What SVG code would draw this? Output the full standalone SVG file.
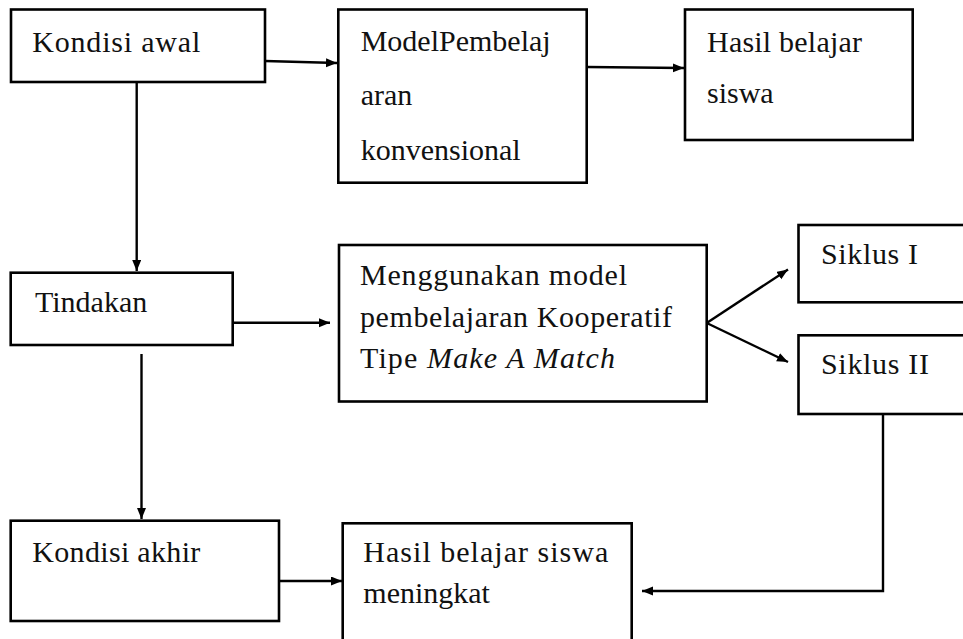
<svg xmlns="http://www.w3.org/2000/svg" width="963" height="639" viewBox="0 0 963 639">
<defs>
<marker id="ah" markerUnits="userSpaceOnUse" markerWidth="12" markerHeight="10" refX="11" refY="4.5" orient="auto">
<path d="M0,0 L11,4.5 L0,9 z" fill="#000"/>
</marker>
<style>
.box{fill:#fff;stroke:#000;stroke-width:2.6}
.t{font-family:"Liberation Serif","Times New Roman",serif;font-size:30px;fill:#111}
.c{fill:none;stroke:#000;stroke-width:2.4}
</style>
</defs>
<rect width="963" height="639" fill="#fff"/>
<g id="connectors">
<path class="c" d="M265,61 L337,63" marker-end="url(#ah)"/>
<path class="c" d="M587,67 L684,68" marker-end="url(#ah)"/>
<path class="c" d="M136.7,81 L136.7,271" marker-end="url(#ah)"/>
<path class="c" d="M233,322.7 L330,322.7" marker-end="url(#ah)"/>
<path class="c" d="M706.7,323 L788,269.5" marker-end="url(#ah)"/>
<path class="c" d="M706.7,323 L788,362" marker-end="url(#ah)"/>
<path class="c" d="M141.5,354 L141.5,519" marker-end="url(#ah)"/>
<path class="c" d="M279,581 L342,581" marker-end="url(#ah)"/>
<path class="c" d="M883,415 L883,591 L642,591" marker-end="url(#ah)"/>
</g>
<g id="kondisi-awal">
<rect class="box" x="11" y="9.5" width="254" height="72.5"/>
<text class="t" x="32.3" y="52.3" textLength="168">Kondisi awal</text>
</g>
<g id="model-konvensional">
<rect class="box" x="338.3" y="9.5" width="248.4" height="173.2"/>
<text class="t" x="360.7" y="50.7">ModelPembelaj</text>
<text class="t" x="360.7" y="105">aran</text>
<text class="t" x="360.7" y="160">konvensional</text>
</g>
<g id="hasil-belajar">
<rect class="box" x="685" y="9.5" width="227.7" height="130.5"/>
<text class="t" x="707" y="51.7" textLength="155">Hasil belajar</text>
<text class="t" x="707" y="103.3">siswa</text>
</g>
<g id="tindakan">
<rect class="box" x="10.7" y="272.7" width="222" height="72.3"/>
<text class="t" x="35" y="311.7">Tindakan</text>
</g>
<g id="menggunakan">
<rect class="box" x="339" y="245" width="367.7" height="156.5"/>
<text class="t" x="360" y="285" textLength="267">Menggunakan model</text>
<text class="t" x="360" y="326.5" textLength="312">pembelajaran Kooperatif</text>
<text class="t" x="360" y="368" textLength="255">Tipe <tspan font-style="italic">Make A Match</tspan></text>
</g>
<g id="siklus-1">
<rect class="box" x="798.5" y="225" width="180" height="77.3"/>
<text class="t" x="821" y="264" textLength="97">Siklus I</text>
</g>
<g id="siklus-2">
<rect class="box" x="798.5" y="335.3" width="180" height="78.7"/>
<text class="t" x="821" y="374" textLength="108">Siklus II</text>
</g>
<g id="kondisi-akhir">
<rect class="box" x="10.7" y="520.7" width="268.3" height="100.3"/>
<text class="t" x="32.3" y="562.3" textLength="168">Kondisi akhir</text>
</g>
<g id="hasil-meningkat">
<rect class="box" x="342.7" y="523.3" width="289" height="130"/>
<text class="t" x="363.3" y="562.3" textLength="245">Hasil belajar siswa</text>
<text class="t" x="363.3" y="603.3">meningkat</text>
</g>
</svg>
